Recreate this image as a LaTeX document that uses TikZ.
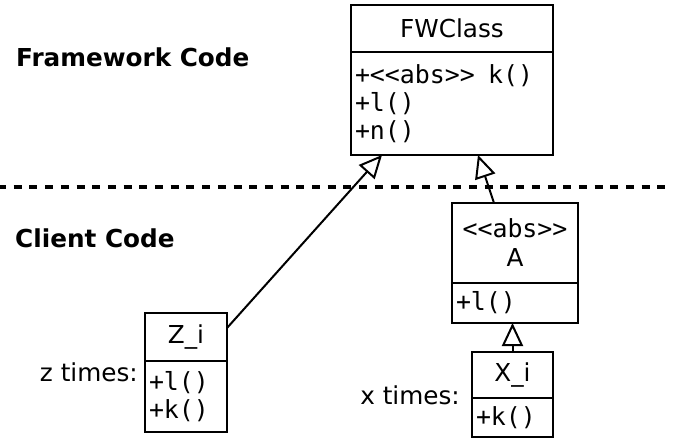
\documentclass[tikz,border=0pt]{standalone}
\usepackage{fontspec}
\setmainfont{DejaVu Sans}
\setmonofont{DejaVu Sans Mono}
\usetikzlibrary{arrows.meta}

\tikzset{
  boite/.style={draw, line width=2pt, inner sep=0pt, outer sep=0pt, align=center, font=\fontsize{24.7}{29}\selectfont},
  corps/.style={draw, line width=2pt, inner xsep=4pt, inner ysep=0pt, outer sep=0pt, align=left, font=\fontsize{24.9}{28}\ttfamily},
  herite/.style={line width=2pt, -{Triangle[open, length=23pt, width=21pt]}},
  titre/.style={inner sep=0pt, anchor=base west, font=\bfseries\fontsize{24.7}{29}\selectfont},
  etiq/.style={inner sep=0pt, anchor=base east, font=\fontsize{24.7}{29}\selectfont},
}

\begin{document}
\begin{tikzpicture}[x=1pt, y=-1pt]
  \useasboundingbox (0,0) rectangle (681,441);

  % separation framework / client
  \coordinate (sepg) at (-2,187);
  \coordinate (sepd) at (665,187);
  \draw[line width=3.5pt, dash pattern=on 8pt off 7.7pt] (sepg) -- (sepd);

  % titres
  \node[titre] (fwcode) at (16,67) {Framework Code};
  \node[titre] (clcode) at (15,248) {Client Code};

  % classe FWClass
  \node[boite, minimum width=202pt, minimum height=47pt] (fwh) at (452,28.5) {FWClass};
  \node[corps, anchor=north, text width=194pt, minimum height=103pt] (fwb) at (fwh.south) {+<<abs>>\kern5pt{} k()\\+l()\\+n()};

  % classe abstraite A
  \node[boite, minimum width=126pt, minimum height=80pt] (ah) at (515,243) {{\ttfamily\fontsize{24.9}{29}\selectfont <<abs>>}\\A};
  \node[corps, anchor=north, text width=118pt, minimum height=40pt] (ab) at (ah.south) {+l()};

  % classes Z_i
  \node[boite, minimum width=82pt, minimum height=48pt] (zih) at (186,337) {Z\_i};
  \node[corps, anchor=north, text width=74pt, minimum height=71pt] (zib) at (zih.south) {+l()\\+k()};
  \node[etiq] (zfois) at (138,381) {z times:};

  % classes X_i
  \node[boite, minimum width=81pt, minimum height=46pt] (xih) at (512.5,375) {X\_i};
  \node[corps, anchor=north, text width=73pt, minimum height=39pt] (xib) at (xih.south) {+k()};
  \node[etiq] (xfois) at (460,404) {x times:};

  % heritages
  \draw[herite] ([yshift=9pt]zih.east) -- ([xshift=-70pt]fwb.south);
  \draw[herite] ([xshift=-21pt]ah.north) -- ([xshift=26pt]fwb.south);
  \draw[herite] (xih.north) -- (xih.north |- ab.south);

\end{tikzpicture}
\end{document}
